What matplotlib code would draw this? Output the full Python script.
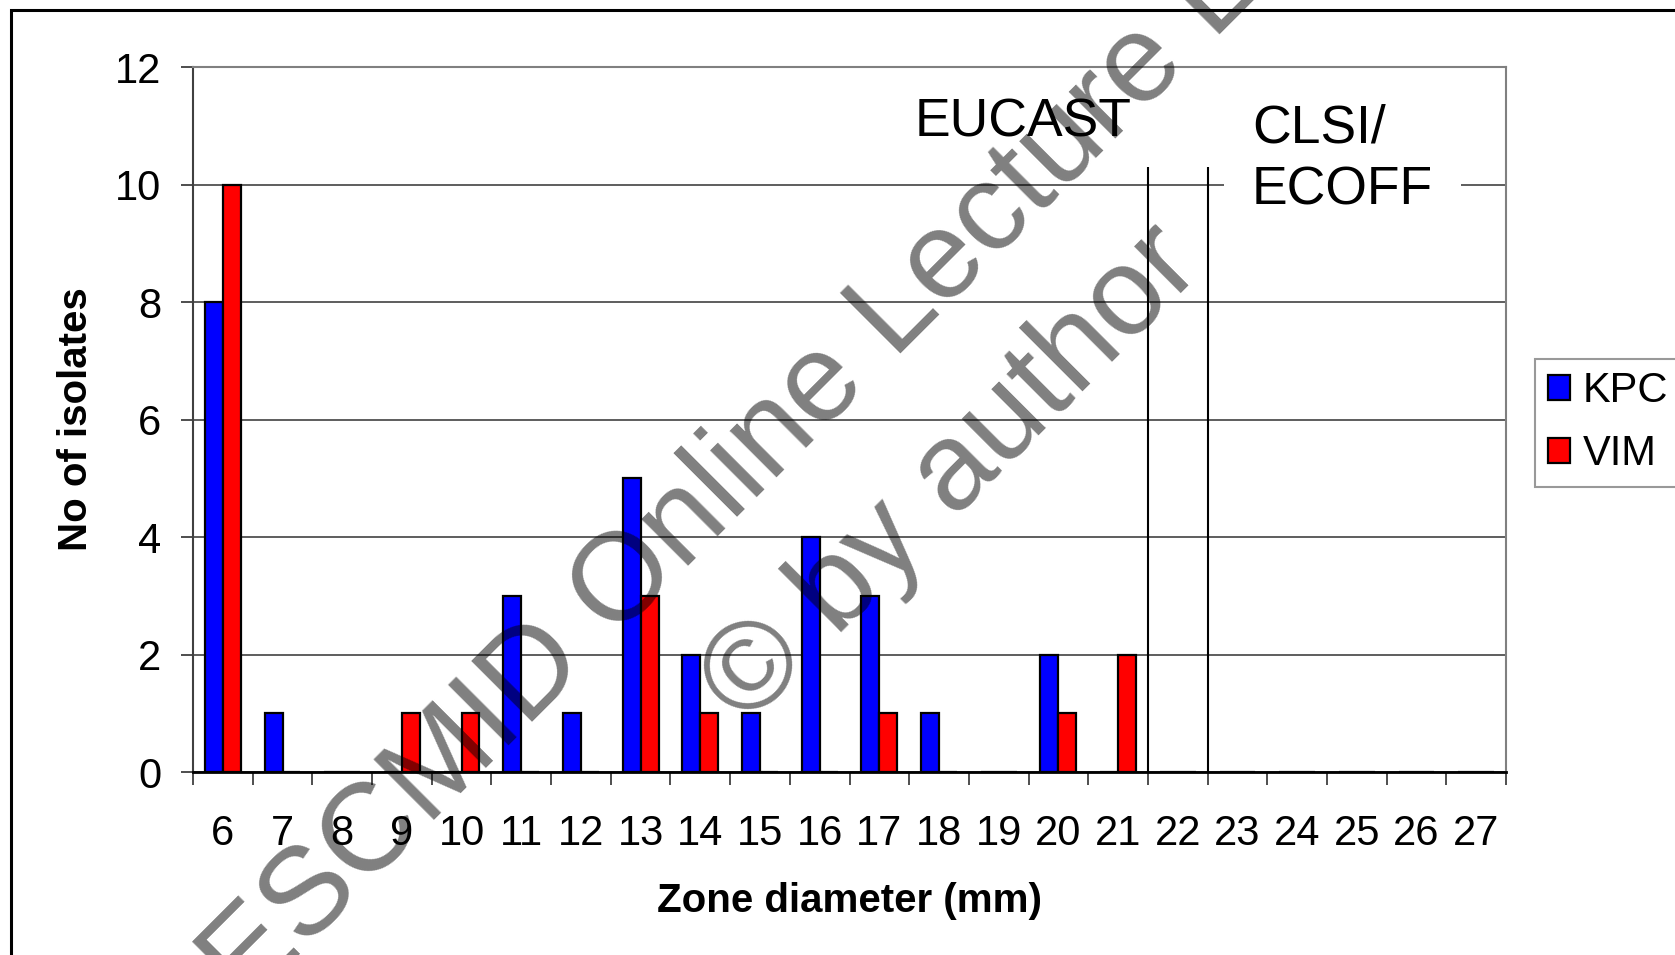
import numpy as np
import matplotlib.pyplot as plt
from matplotlib.patches import Rectangle

# zone diameter categories (mm) and isolate counts
diameters = list(range(6, 28))
kpc = [8, 1, 0, 0, 0, 3, 1, 5, 2, 1, 4, 3, 1, 0, 2, 0, 0, 0, 0, 0, 0, 0]
vim = [10, 0, 0, 1, 1, 0, 0, 3, 1, 0, 0, 1, 0, 0, 1, 2, 0, 0, 0, 0, 0, 0]
breakpoints = [21.5, 22.5]
yticks = [0, 2, 4, 6, 8, 10, 12]

plain = ['Liberation Sans', 'DejaVu Sans']

W, H = 1675, 955
fig = plt.figure(figsize=(W / 100, H / 100), dpi=100)
ax = fig.add_axes([193 / W, 1 - 772 / H, (1506 - 193) / W, (772 - 67) / H])

x = np.array(diameters)
w = 0.3
ax.bar(x - w / 2, kpc, w, color='#0000ff', edgecolor='black', linewidth=1.6, label='KPC', zorder=2)
ax.bar(x + w / 2, vim, w, color='#ff0000', edgecolor='black', linewidth=1.6, label='VIM', zorder=2)

ax.vlines(breakpoints, 0, 10.3, color='black', linewidth=1.5, zorder=3)

ax.set_xlim(5.5, 27.5)
ax.set_ylim(0, 12)
ax.set_yticks(yticks)
ax.yaxis.grid(True, color='#505050', linewidth=1.3)
ax.set_axisbelow(True)

ax.set_xticks(x)
ax.set_xticklabels([str(d) for d in diameters], fontfamily=plain, fontsize=30)
ax.set_xticks(np.arange(5.5, 28, 1), minor=True)
ax.tick_params(axis='x', which='major', length=0, pad=30)
ax.tick_params(axis='x', which='minor', length=9, width=1.3, color='#404040')
ax.tick_params(axis='y', length=9, width=1.3, color='#404040', pad=14)
for t in ax.get_yticklabels():
    t.set_fontfamily(plain)
    t.set_fontsize(30)

for s in ['top', 'right']:
    ax.spines[s].set_color('#808080')
    ax.spines[s].set_linewidth(1.5)
ax.spines['left'].set_color('#404040')
ax.spines['left'].set_linewidth(1.5)
ax.spines['bottom'].set_color('black')
ax.spines['bottom'].set_linewidth(2)

ax.set_xlabel('Zone diameter (mm)', fontfamily=plain, fontweight='bold', fontsize=29, va='center')
ax.xaxis.set_label_coords(0.5, -0.183)
ax.set_ylabel('No of isolates', fontfamily=plain, fontweight='bold', fontsize=29, va='center')
ax.yaxis.set_label_coords(-0.089, 0.5)

ax.text(17.59, 10.81, 'EUCAST', fontfamily=plain, fontsize=38.5, va='baseline', ha='left', zorder=4)
ax.text(23.24, 9.66, 'CLSI/\nECOFF', fontfamily=plain, fontsize=38.5, va='baseline', ha='left',
        linespacing=1.3, zorder=4,
        bbox=dict(facecolor='white', edgecolor='none', pad=20))

leg = fig.legend(loc='upper left', bbox_to_anchor=(1535 / W, 1 - 359 / H),
                 prop={'family': plain, 'size': 30}, frameon=True, fancybox=False,
                 edgecolor='#808080', handlelength=0.55, handleheight=0.55,
                 handletextpad=0.3, labelspacing=0.55, borderpad=0.3, borderaxespad=0)
leg.get_frame().set_linewidth(1.5)

# outer frame of the slide (cut at right and bottom)
fig.patches.append(Rectangle((11 / W, -0.1), 1.2, 1.1 - 10 / H, transform=fig.transFigure,
                             fill=False, edgecolor='black', linewidth=2.2))

# watermark
fig.text(864 / W, 1 - 390 / H, 'ESCMID Online Lecture Library', fontfamily=plain, fontsize=90,
         color='black', alpha=0.5, rotation=45, rotation_mode='anchor',
         ha='center', va='baseline', zorder=10)
fig.text(976 / W, 1 - 499 / H, '\u00a9 by author', fontfamily=plain, fontsize=90,
         color='black', alpha=0.5, rotation=45, rotation_mode='anchor',
         ha='center', va='baseline', zorder=10)

fig.savefig('out.png', dpi=100)
